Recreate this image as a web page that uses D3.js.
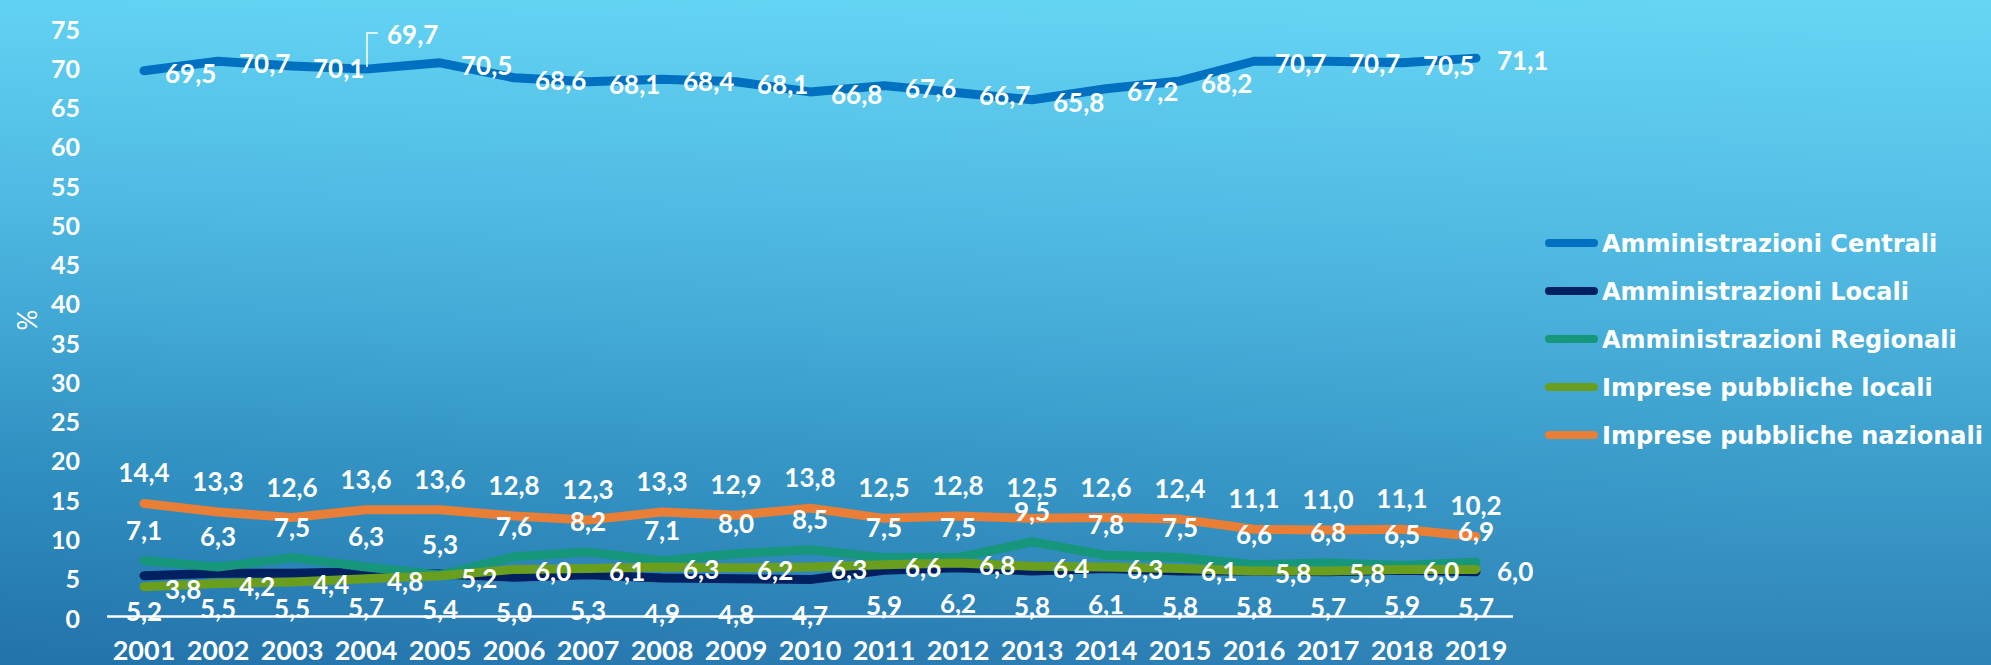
<!DOCTYPE html>
<html>
<head>
<meta charset="utf-8">
<script src="https://cdn.jsdelivr.net/npm/d3@7"></script>
<style>
  html, body { margin: 0; padding: 0; overflow: hidden; background: #3a9fd0; }
  svg { display: block; }
</style>
</head>
<body>
<svg id="chart" width="1991" height="665"></svg>
<script>
// ---- data ----
const years = ["2001","2002","2003","2004","2005","2006","2007","2008","2009","2010",
               "2011","2012","2013","2014","2015","2016","2017","2018","2019"];
const amministrazioniCentrali = [69.5,70.7,70.1,69.7,70.5,68.6,68.1,68.4,68.1,66.8,67.6,66.7,65.8,67.2,68.2,70.7,70.7,70.5,71.1];
const amministrazioniLocali   = [5.2,5.5,5.5,5.7,5.4,5.0,5.3,4.9,4.8,4.7,5.9,6.2,5.8,6.1,5.8,5.8,5.7,5.9,5.7];
const amministrazioniRegionali= [7.1,6.3,7.5,6.3,5.3,7.6,8.2,7.1,8.0,8.5,7.5,7.5,9.5,7.8,7.5,6.6,6.8,6.5,6.9];
const imprese_pubbliche_locali= [3.8,4.2,4.4,4.8,5.2,6.0,6.1,6.3,6.2,6.3,6.6,6.8,6.4,6.3,6.1,5.8,5.8,6.0,6.0];
const imprese_pubbliche_nazionali = [14.4,13.3,12.6,13.6,13.6,12.8,12.3,13.3,12.9,13.8,12.5,12.8,12.5,12.6,12.4,11.1,11.0,11.1,10.2];
const seriesNames = ["Amministrazioni Centrali","Amministrazioni Locali","Amministrazioni Regionali","Imprese pubbliche locali","Imprese pubbliche nazionali"];
const yTicks = [0,5,10,15,20,25,30,35,40,45,50,55,60,65,70,75];
const yTitle = "%";

// ---- styles ----
const colors = ["#0070C0","#002060","#16967A","#6A9E1F","#E97E37"];
const labelPos = ["right","below","above","right","above"];
const seriesValues = [amministrazioniCentrali, amministrazioniLocali, amministrazioniRegionali, imprese_pubbliche_locali, imprese_pubbliche_nazionali];
const numFont = "Lato, 'Open Sans', sans-serif";
const fmt = v => d3.format(".1f")(v).replace(".", ",");

const svg = d3.select("#chart");
const W = 1991, H = 665;

// background gradient
const defs = svg.append("defs");
const bg = defs.append("linearGradient").attr("id","bg").attr("x1","0").attr("y1","0").attr("x2","0").attr("y2","1");
[["0%","#62D2F3"],["30%","#4DB8E1"],["50%","#3DA2D1"],["70%","#2A89BC"],["100%","#1966A2"]]
  .forEach(([o,c]) => bg.append("stop").attr("offset",o).attr("stop-color",c));
const sheen = defs.append("linearGradient").attr("id","sheen").attr("x1","0").attr("y1","0").attr("x2","1").attr("y2","0.6");
sheen.append("stop").attr("offset","0%").attr("stop-color","#7be6ff").attr("stop-opacity",0);
sheen.append("stop").attr("offset","100%").attr("stop-color","#7be6ff").attr("stop-opacity",0.22);
svg.append("rect").attr("width",W).attr("height",H).attr("fill","url(#bg)");
svg.append("rect").attr("width",W).attr("height",H).attr("fill","url(#sheen)");

// scales
const x = d3.scaleBand().domain(years).range([107, 1513]).padding(0);
const cx = d => x(d) + x.bandwidth()/2;
const y = d3.scaleLinear().domain([0,75]).range([616.5, 27.5]);

// y tick labels
svg.append("g").selectAll("text").data(yTicks).join("text")
  .attr("x", 80).attr("y", d => y(d) + 1)
  .attr("text-anchor","end").attr("dominant-baseline","central")
  .attr("font-family", numFont).attr("font-weight", 700).attr("font-size", 25)
  .attr("fill","#fff").text(d => d);

// y title
svg.append("text")
  .attr("transform","translate(27,320) rotate(-90)")
  .attr("text-anchor","middle").attr("dominant-baseline","central")
  .attr("font-family", numFont).attr("font-size", 26).attr("fill","#fff").text(yTitle);

// x axis line
svg.append("line").attr("x1", x.range()[0]).attr("x2", x.range()[1])
  .attr("y1", y(0)).attr("y2", y(0)).attr("stroke","#fff").attr("stroke-width",2.5);

// x labels
svg.append("g").selectAll("text").data(years).join("text")
  .attr("x", d => cx(d)).attr("y", 660)
  .attr("text-anchor","middle")
  .attr("font-family", numFont).attr("font-weight", 700).attr("font-size", 27)
  .attr("fill","#fff").text(d => d);

// lines
const line = d3.line().x((d,i) => cx(years[i])).y(d => y(d)).curve(d3.curveLinear);
seriesValues.forEach((vals, s) => {
  svg.append("path").datum(vals).attr("d", line)
    .attr("fill","none").attr("stroke", colors[s]).attr("stroke-width", 9)
    .attr("stroke-linecap","round").attr("stroke-linejoin","round");
});

// data labels
seriesValues.forEach((vals, s) => {
  const g = svg.append("g");
  vals.forEach((v, i) => {
    const px = cx(years[i]), py = y(v);
    let tx = px, ty = py, anchor = "middle";
    if (labelPos[s] === "above") { ty = py - 31; }
    else if (labelPos[s] === "below") { ty = py + 35; }
    else { tx = px + 21; ty = py + 2; anchor = "start"; }
    if (s === 0 && i === 3) {
      // dragged label with leader line
      g.append("polyline")
        .attr("points", [[px+1, py-2],[px+1, py-36],[px+12, py-36]].map(p=>p.join(",")).join(" "))
        .attr("fill","none").attr("stroke","#fff").attr("stroke-width",1.5);
      tx = px + 21; ty = py - 35; anchor = "start";
    }
    g.append("text").attr("x", tx).attr("y", ty)
      .attr("text-anchor", anchor).attr("dominant-baseline","central")
      .attr("font-family", numFont).attr("font-weight", 700).attr("font-size", 26)
      .attr("fill","#fff").text(fmt(v));
  });
});

// legend
const lg = svg.append("g");
seriesNames.forEach((name, s) => {
  const ly = 243 + s * 48;
  lg.append("line").attr("x1",1549).attr("x2",1594).attr("y1",ly).attr("y2",ly)
    .attr("stroke", colors[s]).attr("stroke-width",8).attr("stroke-linecap","round");
  lg.append("text").attr("x",1602).attr("y",ly+1).attr("dominant-baseline","central")
    .attr("font-family","'DejaVu Sans', sans-serif").attr("font-weight",700).attr("font-size",24)
    .attr("fill","#fff").text(name);
});
</script>
</body>
</html>
